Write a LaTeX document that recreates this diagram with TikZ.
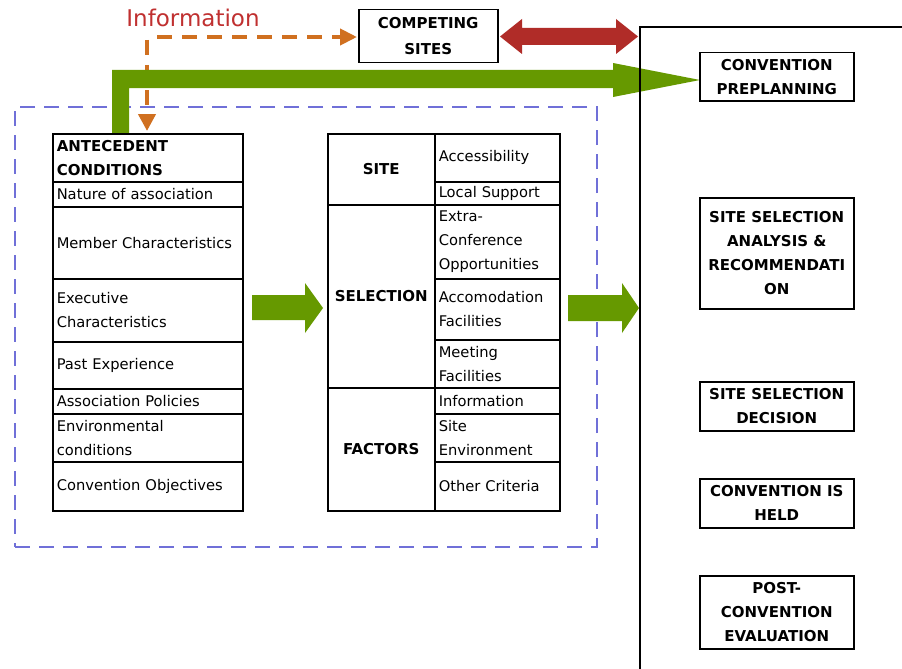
\documentclass[tikz,border=0pt]{standalone}
\usepackage{fontspec}
\setmainfont{DejaVu Sans}
\usetikzlibrary{arrows.meta,calc}
\definecolor{infored}{RGB}{192,48,48}
\definecolor{orangeA}{RGB}{208,112,32}
\definecolor{redarrow}{RGB}{176,44,40}
\definecolor{greenA}{RGB}{102,153,0}
\definecolor{blueA}{RGB}{112,112,216}
\newcommand\tabf{\fontsize{14.7}{24}\selectfont}
\newcommand\boldf{\bfseries\fontsize{15}{24}\selectfont}
\begin{document}
\begin{tikzpicture}[x=1pt,y=-1pt,
  tcell/.style={draw, line width=1.5pt, anchor=north west, inner xsep=4pt, inner ysep=0pt, align=left, font=\tabf},
  hcell/.style={draw, line width=1.5pt, anchor=north west, inner sep=0pt, align=center, font=\boldf, minimum width=107pt},
  fcell/.style={tcell, text width=117pt},
  acell/.style={tcell, text width=182pt},
  stagebox/.style={draw, line width=1.5pt, anchor=north west, inner sep=0pt, align=center, font=\boldf, minimum width=154pt},
  oline/.style={orangeA, line width=4pt, dash pattern=on 15pt off 10pt},
  bigarrow/.style={fill=greenA, draw=none}
]
\useasboundingbox[fill=white] (0,0) rectangle (902,669);

% dashed frame
\node[draw=blueA, line width=2pt, dash pattern=on 15pt off 9pt, anchor=north west,
      minimum width=582pt, minimum height=440pt, inner sep=0pt] (frame) at (14,106) {};

% information arrows
\node[text=infored, font=\fontsize{23}{26}\selectfont, inner sep=0pt] (info) at (193,18) {Information};
\coordinate (odown) at (147,131);
\coordinate (oright) at (357,37);
\draw[oline, -{Triangle[length=17pt,width=17pt]}] (147,40) -- (odown);
\draw[oline, -{Triangle[length=17pt,width=16pt]}] (157,37) -- (oright);

% green L arrow to preplanning
\fill[bigarrow] (112,133) -- (112,70) -- (613,70) -- (613,63) -- (700,80) -- (613,97) -- (613,88) -- (129,88) -- (129,133) -- cycle;

% antecedent table
\node[acell, minimum height=48pt, font=\boldf] (a0) at (52,133) {ANTECEDENT\\CONDITIONS};
\node[acell, minimum height=25pt] (a1) at (52,181) {Nature of association};
\node[acell, minimum height=72pt] (a2) at (52,206) {Member Characteristics};
\node[acell, minimum height=63pt] (a3) at (52,278) {Executive\\Characteristics};
\node[acell, minimum height=47pt] (a4) at (52,341) {Past Experience};
\node[acell, minimum height=25pt] (a5) at (52,388) {Association Policies};
\node[acell, minimum height=48pt] (a6) at (52,413) {Environmental\\conditions};
\node[acell, minimum height=49pt] (a7) at (52,461) {Convention Objectives};

% site selection factors table
\node[hcell, minimum height=71pt] (s0) at (327,133) {SITE};
\node[hcell, minimum height=183pt] (s1) at (327,204) {SELECTION};
\node[hcell, minimum height=123pt] (s2) at (327,387) {FACTORS};
\node[fcell, minimum height=48pt] (f1) at (434,133) {Accessibility};
\node[fcell, minimum height=23pt] (f2) at (434,181) {Local Support};
\node[fcell, minimum height=74pt] (f3) at (434,204) {Extra-\\Conference\\Opportunities};
\node[fcell, minimum height=61pt] (f4) at (434,278) {Accomodation\\Facilities};
\node[fcell, minimum height=48pt] (f5) at (434,339) {Meeting\\Facilities};
\node[fcell, minimum height=26pt] (f6) at (434,387) {Information};
\node[fcell, minimum height=48pt] (f7) at (434,413) {Site\\Environment};
\node[fcell, minimum height=49pt] (f8) at (434,461) {Other Criteria};

% middle green arrows
\fill[bigarrow] (252,295) -- (305,295) -- (305,283) -- (323,308) -- (305,333) -- (305,320) -- (252,320) -- cycle;
\fill[bigarrow] (568,295) -- (622,295) -- (622,283) -- (639,308) -- (622,333) -- (622,321) -- (568,321) -- cycle;

% competing sites
\node[draw, line width=1.5pt, anchor=north west, inner sep=0pt, align=center,
      font=\bfseries\fontsize{15}{26}\selectfont, minimum width=139pt, minimum height=53pt] (cs) at (358,9) {COMPETING\\SITES};
\fill[redarrow] (500,36.5) -- (522,19) -- (522,28) -- (616,28) -- (616,19) -- (638,36.5) -- (616,54) -- (616,45) -- (522,45) -- (522,54) -- cycle;

% stage container
\draw[line width=1.5pt] (640,690) -- (640,27) -- (920,27);

% stages
\node[stagebox, minimum height=48pt] (pre) at (699,52) {CONVENTION\\PREPLANNING};
\node[stagebox, minimum height=111pt] (ana) at (699,197) {SITE SELECTION\\ANALYSIS \&\\RECOMMENDATI\\ON};
\node[stagebox, minimum height=49pt] (dec) at (699,381) {SITE SELECTION\\DECISION};
\node[stagebox, minimum height=49pt] (held) at (699,478) {CONVENTION IS\\HELD};
\node[stagebox, minimum height=73pt] (post) at (699,575) {POST-\\CONVENTION\\EVALUATION};
\end{tikzpicture}
\end{document}
